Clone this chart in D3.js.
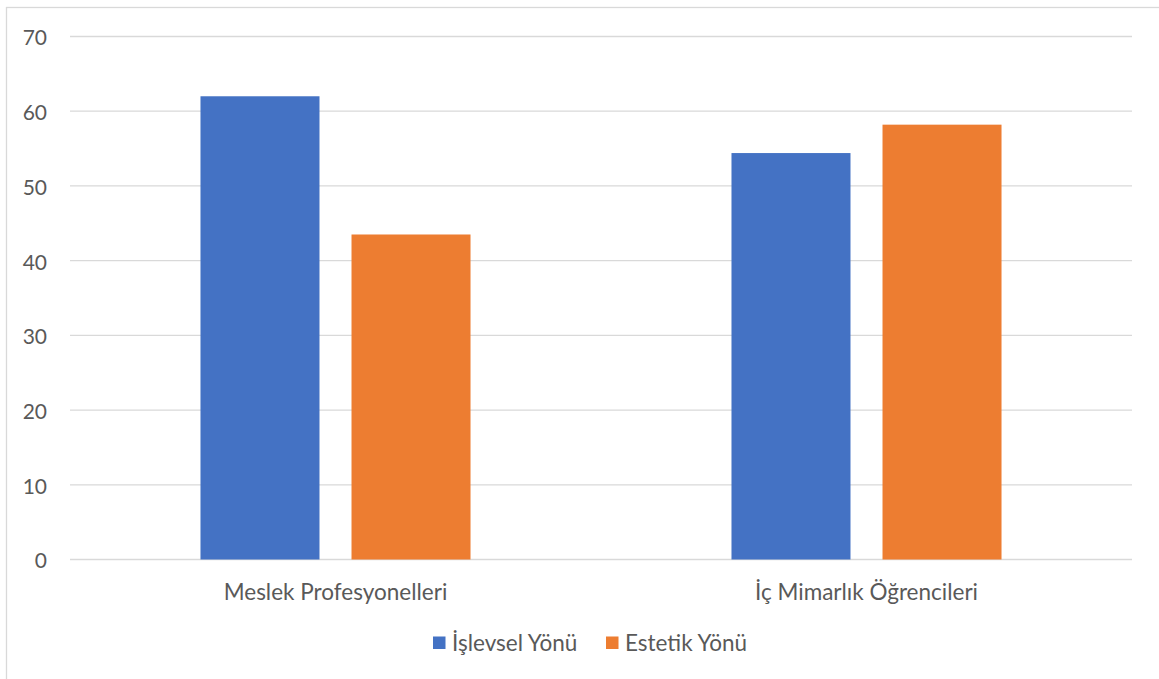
<!DOCTYPE html>
<html>
<head>
<meta charset="utf-8">
<script src="https://cdn.jsdelivr.net/npm/d3@7"></script>
<style>
  html, body { margin: 0; padding: 0; background: #fff; }
  svg { display: block; }
  text { font-family: Lato, "Open Sans", sans-serif; fill: #595959; }
</style>
</head>
<body>
<svg id="chart" width="1159" height="679"></svg>
<script>
// Data
const categories = ["Meslek Profesyonelleri", "İç Mimarlık Öğrencileri"];
const seriesNames = ["İşlevsel Yönü", "Estetik Yönü"];
const islevselValues = [62, 54.4];
const estetikValues = [43.5, 58.2];
const yTicks = [0, 10, 20, 30, 40, 50, 60, 70];
const seriesColors = ["#4472C4", "#ED7D31"];

const rows = categories.map((c, i) => ({
  category: c,
  values: [islevselValues[i], estetikValues[i]]
}));

const svg = d3.select("#chart");

// Chart frame
svg.append("rect")
  .attr("x", 6.5).attr("y", 7.5)
  .attr("width", 1170).attr("height", 700)
  .attr("fill", "none").attr("stroke", "#d9d9d9").attr("stroke-width", 1.3);

const plot = { left: 70, right: 1132, top: 36.5, bottom: 559.5 };

const y = d3.scaleLinear().domain([0, 70]).range([plot.bottom, plot.top]);
const x0 = d3.scaleBand().domain(categories).range([plot.left, plot.right]).padding(0);
const x1 = d3.scaleBand().domain(d3.range(seriesNames.length))
  .range([0, x0.bandwidth()])
  .paddingInner(0.212).paddingOuter(0.864);

// Gridlines
svg.append("g")
  .selectAll("line")
  .data(yTicks)
  .join("line")
  .attr("x1", plot.left).attr("x2", plot.right)
  .attr("y1", d => y(d)).attr("y2", d => y(d))
  .attr("stroke", "#d9d9d9").attr("stroke-width", 1.3);

// Y axis labels
const yAxis = d3.axisLeft(y).tickValues(yTicks).tickSize(0).tickPadding(0);
const yg = svg.append("g").attr("transform", "translate(47,0)").call(yAxis);
yg.select(".domain").remove();
yg.selectAll("text")
  .attr("font-family", "Lato, 'Open Sans', sans-serif")
  .attr("font-size", 21).attr("fill", "#595959").attr("dy", "0.4em");

// Bars
const groups = svg.append("g")
  .selectAll("g")
  .data(rows)
  .join("g")
  .attr("transform", d => `translate(${x0(d.category)},0)`);

groups.selectAll("rect")
  .data(d => d.values.map((v, i) => ({ v, i })))
  .join("rect")
  .attr("x", d => x1(d.i))
  .attr("width", x1.bandwidth())
  .attr("y", d => y(d.v))
  .attr("height", d => y(0) - y(d.v))
  .attr("fill", d => seriesColors[d.i]);

// Category labels
const xAxis = d3.axisBottom(x0).tickSize(0).tickPadding(0);
const xg = svg.append("g").attr("transform", `translate(0,${plot.bottom + 40})`).call(xAxis);
xg.select(".domain").remove();
xg.selectAll("text")
  .attr("font-family", "Lato, 'Open Sans', sans-serif")
  .attr("font-size", 22.5).attr("fill", "#595959").attr("dy", 0);

// Legend
const legend = svg.append("g").attr("transform", "translate(433,643)");
const legendItems = legend.selectAll("g")
  .data(seriesNames)
  .join("g")
  .attr("transform", (d, i) => `translate(${i * 173},0)`);
legendItems.append("rect")
  .attr("x", 0).attr("y", -6.5).attr("width", 12.5).attr("height", 12.5)
  .attr("fill", (d, i) => seriesColors[i]);
legendItems.append("text")
  .attr("x", 19).attr("y", 0).attr("dy", "0.35em")
  .attr("font-size", 22.5)
  .text(d => d);
</script>
</body>
</html>
